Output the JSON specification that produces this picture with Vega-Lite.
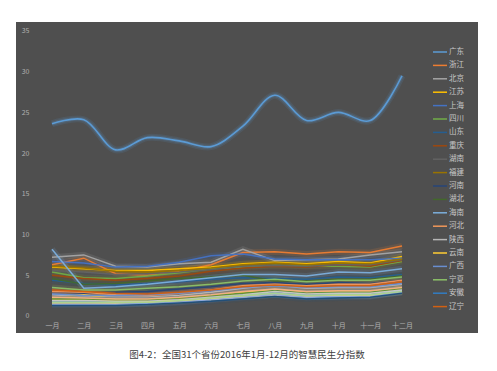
{
  "$schema": "https://vega.github.io/schema/vega-lite/v6.json",
  "width": 462,
  "height": 311,
  "autosize": {"type": "none"},
  "padding": {"left": 16, "top": 22, "right": 19, "bottom": 38},
  "background": "white",
  "config": {
    "view": {"fill": "#4f4f4f", "stroke": null},
    "font": "Noto Sans CJK SC"
  },
  "title": {
    "text": "图4-2：全国31个省份2016年1月-12月的智慧民生分指数",
    "orient": "bottom",
    "anchor": "middle",
    "fontSize": 9.5,
    "fontWeight": "normal",
    "color": "#404040",
    "font": "Noto Sans CJK SC",
    "offset": 17
  },
  "data": {"values": [
{"p":"广东","m":"一月","v":23.6},{"p":"广东","m":"二月","v":24.1},{"p":"广东","m":"三月","v":20.4},{"p":"广东","m":"四月","v":21.9},{"p":"广东","m":"五月","v":21.5},{"p":"广东","m":"六月","v":20.8},{"p":"广东","m":"七月","v":23.3},{"p":"广东","m":"八月","v":27.1},{"p":"广东","m":"九月","v":24.0},{"p":"广东","m":"十月","v":25.0},{"p":"广东","m":"十一月","v":24.0},{"p":"广东","m":"十二月","v":29.5},
{"p":"浙江","m":"一月","v":6.3},{"p":"浙江","m":"二月","v":7.1},{"p":"浙江","m":"三月","v":5.2},{"p":"浙江","m":"四月","v":5.0},{"p":"浙江","m":"五月","v":5.5},{"p":"浙江","m":"六月","v":6.3},{"p":"浙江","m":"七月","v":7.8},{"p":"浙江","m":"八月","v":7.9},{"p":"浙江","m":"九月","v":7.6},{"p":"浙江","m":"十月","v":7.9},{"p":"浙江","m":"十一月","v":7.8},{"p":"浙江","m":"十二月","v":8.6},
{"p":"北京","m":"一月","v":7.2},{"p":"北京","m":"二月","v":7.5},{"p":"北京","m":"三月","v":6.1},{"p":"北京","m":"四月","v":6.0},{"p":"北京","m":"五月","v":6.4},{"p":"北京","m":"六月","v":6.6},{"p":"北京","m":"七月","v":8.2},{"p":"北京","m":"八月","v":6.8},{"p":"北京","m":"九月","v":6.9},{"p":"北京","m":"十月","v":7.0},{"p":"北京","m":"十一月","v":7.5},{"p":"北京","m":"十二月","v":7.9},
{"p":"江苏","m":"一月","v":6.0},{"p":"江苏","m":"二月","v":5.8},{"p":"江苏","m":"三月","v":5.6},{"p":"江苏","m":"四月","v":5.6},{"p":"江苏","m":"五月","v":5.8},{"p":"江苏","m":"六月","v":6.0},{"p":"江苏","m":"七月","v":6.4},{"p":"江苏","m":"八月","v":6.6},{"p":"江苏","m":"九月","v":6.4},{"p":"江苏","m":"十月","v":6.7},{"p":"江苏","m":"十一月","v":6.5},{"p":"江苏","m":"十二月","v":7.3},
{"p":"上海","m":"一月","v":6.7},{"p":"上海","m":"二月","v":6.5},{"p":"上海","m":"三月","v":6.0},{"p":"上海","m":"四月","v":6.1},{"p":"上海","m":"五月","v":6.6},{"p":"上海","m":"六月","v":7.4},{"p":"上海","m":"七月","v":7.6},{"p":"上海","m":"八月","v":7.0},{"p":"上海","m":"九月","v":6.9},{"p":"上海","m":"十月","v":6.9},{"p":"上海","m":"十一月","v":6.9},{"p":"上海","m":"十二月","v":7.1},
{"p":"四川","m":"一月","v":5.4},{"p":"四川","m":"二月","v":4.7},{"p":"四川","m":"三月","v":4.6},{"p":"四川","m":"四月","v":4.9},{"p":"四川","m":"五月","v":5.3},{"p":"四川","m":"六月","v":5.8},{"p":"四川","m":"七月","v":6.0},{"p":"四川","m":"八月","v":6.2},{"p":"四川","m":"九月","v":6.1},{"p":"四川","m":"十月","v":6.1},{"p":"四川","m":"十一月","v":6.0},{"p":"四川","m":"十二月","v":6.7},
{"p":"山东","m":"一月","v":4.4},{"p":"山东","m":"二月","v":4.0},{"p":"山东","m":"三月","v":3.8},{"p":"山东","m":"四月","v":4.0},{"p":"山东","m":"五月","v":4.2},{"p":"山东","m":"六月","v":4.5},{"p":"山东","m":"七月","v":4.7},{"p":"山东","m":"八月","v":4.6},{"p":"山东","m":"九月","v":4.5},{"p":"山东","m":"十月","v":4.8},{"p":"山东","m":"十一月","v":4.7},{"p":"山东","m":"十二月","v":5.1},
{"p":"重庆","m":"一月","v":5.0},{"p":"重庆","m":"二月","v":4.6},{"p":"重庆","m":"三月","v":4.4},{"p":"重庆","m":"四月","v":4.6},{"p":"重庆","m":"五月","v":4.9},{"p":"重庆","m":"六月","v":5.5},{"p":"重庆","m":"七月","v":5.9},{"p":"重庆","m":"八月","v":6.1},{"p":"重庆","m":"九月","v":6.0},{"p":"重庆","m":"十月","v":6.3},{"p":"重庆","m":"十一月","v":6.1},{"p":"重庆","m":"十二月","v":6.8},
{"p":"湖南","m":"一月","v":5.6},{"p":"湖南","m":"二月","v":5.4},{"p":"湖南","m":"三月","v":5.1},{"p":"湖南","m":"四月","v":5.2},{"p":"湖南","m":"五月","v":5.4},{"p":"湖南","m":"六月","v":5.7},{"p":"湖南","m":"七月","v":6.1},{"p":"湖南","m":"八月","v":6.2},{"p":"湖南","m":"九月","v":6.1},{"p":"湖南","m":"十月","v":6.3},{"p":"湖南","m":"十一月","v":6.3},{"p":"湖南","m":"十二月","v":6.9},
{"p":"福建","m":"一月","v":6.1},{"p":"福建","m":"二月","v":5.9},{"p":"福建","m":"三月","v":5.5},{"p":"福建","m":"四月","v":5.4},{"p":"福建","m":"五月","v":5.6},{"p":"福建","m":"六月","v":5.9},{"p":"福建","m":"七月","v":6.3},{"p":"福建","m":"八月","v":6.5},{"p":"福建","m":"九月","v":6.3},{"p":"福建","m":"十月","v":6.5},{"p":"福建","m":"十一月","v":6.4},{"p":"福建","m":"十二月","v":7.0},
{"p":"河南","m":"一月","v":3.0},{"p":"河南","m":"二月","v":2.8},{"p":"河南","m":"三月","v":2.9},{"p":"河南","m":"四月","v":3.0},{"p":"河南","m":"五月","v":3.3},{"p":"河南","m":"六月","v":3.6},{"p":"河南","m":"七月","v":4.0},{"p":"河南","m":"八月","v":4.1},{"p":"河南","m":"九月","v":3.9},{"p":"河南","m":"十月","v":4.1},{"p":"河南","m":"十一月","v":4.0},{"p":"河南","m":"十二月","v":4.4},
{"p":"湖北","m":"一月","v":4.6},{"p":"湖北","m":"二月","v":3.9},{"p":"湖北","m":"三月","v":4.0},{"p":"湖北","m":"四月","v":4.3},{"p":"湖北","m":"五月","v":4.6},{"p":"湖北","m":"六月","v":4.8},{"p":"湖北","m":"七月","v":5.0},{"p":"湖北","m":"八月","v":4.3},{"p":"湖北","m":"九月","v":4.3},{"p":"湖北","m":"十月","v":4.5},{"p":"湖北","m":"十一月","v":4.5},{"p":"湖北","m":"十二月","v":4.9},
{"p":"海南","m":"一月","v":8.2},{"p":"海南","m":"二月","v":3.4},{"p":"海南","m":"三月","v":3.6},{"p":"海南","m":"四月","v":3.9},{"p":"海南","m":"五月","v":4.3},{"p":"海南","m":"六月","v":4.7},{"p":"海南","m":"七月","v":5.1},{"p":"海南","m":"八月","v":5.1},{"p":"海南","m":"九月","v":4.9},{"p":"海南","m":"十月","v":5.4},{"p":"海南","m":"十一月","v":5.3},{"p":"海南","m":"十二月","v":5.8},
{"p":"河北","m":"一月","v":3.0},{"p":"河北","m":"二月","v":2.9},{"p":"河北","m":"三月","v":2.6},{"p":"河北","m":"四月","v":2.5},{"p":"河北","m":"五月","v":2.8},{"p":"河北","m":"六月","v":3.2},{"p":"河北","m":"七月","v":3.7},{"p":"河北","m":"八月","v":3.9},{"p":"河北","m":"九月","v":3.7},{"p":"河北","m":"十月","v":3.9},{"p":"河北","m":"十一月","v":3.9},{"p":"河北","m":"十二月","v":4.4},
{"p":"陕西","m":"一月","v":2.6},{"p":"陕西","m":"二月","v":2.4},{"p":"陕西","m":"三月","v":2.3},{"p":"陕西","m":"四月","v":2.3},{"p":"陕西","m":"五月","v":2.5},{"p":"陕西","m":"六月","v":2.9},{"p":"陕西","m":"七月","v":3.4},{"p":"陕西","m":"八月","v":3.8},{"p":"陕西","m":"九月","v":3.4},{"p":"陕西","m":"十月","v":3.5},{"p":"陕西","m":"十一月","v":3.5},{"p":"陕西","m":"十二月","v":3.9},
{"p":"云南","m":"一月","v":2.2},{"p":"云南","m":"二月","v":2.6},{"p":"云南","m":"三月","v":2.1},{"p":"云南","m":"四月","v":2.0},{"p":"云南","m":"五月","v":2.2},{"p":"云南","m":"六月","v":2.5},{"p":"云南","m":"七月","v":2.9},{"p":"云南","m":"八月","v":3.3},{"p":"云南","m":"九月","v":3.0},{"p":"云南","m":"十月","v":3.1},{"p":"云南","m":"十一月","v":3.1},{"p":"云南","m":"十二月","v":3.6},
{"p":"广西","m":"一月","v":2.7},{"p":"广西","m":"二月","v":2.5},{"p":"广西","m":"三月","v":2.5},{"p":"广西","m":"四月","v":2.6},{"p":"广西","m":"五月","v":2.8},{"p":"广西","m":"六月","v":3.1},{"p":"广西","m":"七月","v":3.5},{"p":"广西","m":"八月","v":3.7},{"p":"广西","m":"九月","v":3.5},{"p":"广西","m":"十月","v":3.6},{"p":"广西","m":"十一月","v":3.6},{"p":"广西","m":"十二月","v":4.0},
{"p":"宁夏","m":"一月","v":3.5},{"p":"宁夏","m":"二月","v":3.2},{"p":"宁夏","m":"三月","v":3.2},{"p":"宁夏","m":"四月","v":3.4},{"p":"宁夏","m":"五月","v":3.6},{"p":"宁夏","m":"六月","v":3.9},{"p":"宁夏","m":"七月","v":4.3},{"p":"宁夏","m":"八月","v":4.5},{"p":"宁夏","m":"九月","v":4.2},{"p":"宁夏","m":"十月","v":4.4},{"p":"宁夏","m":"十一月","v":4.4},{"p":"宁夏","m":"十二月","v":4.8},
{"p":"安徽","m":"一月","v":1.5},{"p":"安徽","m":"二月","v":1.5},{"p":"安徽","m":"三月","v":1.5},{"p":"安徽","m":"四月","v":1.6},{"p":"安徽","m":"五月","v":1.9},{"p":"安徽","m":"六月","v":2.2},{"p":"安徽","m":"七月","v":2.4},{"p":"安徽","m":"八月","v":2.7},{"p":"安徽","m":"九月","v":2.3},{"p":"安徽","m":"十月","v":2.4},{"p":"安徽","m":"十一月","v":2.5},{"p":"安徽","m":"十二月","v":3.0},
{"p":"辽宁","m":"一月","v":3.2},{"p":"辽宁","m":"二月","v":3.0},{"p":"辽宁","m":"三月","v":2.8},{"p":"辽宁","m":"四月","v":2.7},{"p":"辽宁","m":"五月","v":2.9},{"p":"辽宁","m":"六月","v":3.2},{"p":"辽宁","m":"七月","v":3.6},{"p":"辽宁","m":"八月","v":3.8},{"p":"辽宁","m":"九月","v":3.6},{"p":"辽宁","m":"十月","v":3.7},{"p":"辽宁","m":"十一月","v":3.7},{"p":"辽宁","m":"十二月","v":4.2},
{"p":"天津","m":"一月","v":2.4},{"p":"天津","m":"二月","v":2.3},{"p":"天津","m":"三月","v":2.2},{"p":"天津","m":"四月","v":2.2},{"p":"天津","m":"五月","v":2.4},{"p":"天津","m":"六月","v":2.7},{"p":"天津","m":"七月","v":3.1},{"p":"天津","m":"八月","v":3.4},{"p":"天津","m":"九月","v":3.1},{"p":"天津","m":"十月","v":3.2},{"p":"天津","m":"十一月","v":3.2},{"p":"天津","m":"十二月","v":3.6},
{"p":"吉林","m":"一月","v":2.0},{"p":"吉林","m":"二月","v":2.0},{"p":"吉林","m":"三月","v":1.9},{"p":"吉林","m":"四月","v":1.9},{"p":"吉林","m":"五月","v":2.1},{"p":"吉林","m":"六月","v":2.4},{"p":"吉林","m":"七月","v":2.7},{"p":"吉林","m":"八月","v":3.0},{"p":"吉林","m":"九月","v":2.7},{"p":"吉林","m":"十月","v":2.8},{"p":"吉林","m":"十一月","v":2.8},{"p":"吉林","m":"十二月","v":3.3},
{"p":"黑龙江","m":"一月","v":1.8},{"p":"黑龙江","m":"二月","v":1.8},{"p":"黑龙江","m":"三月","v":1.7},{"p":"黑龙江","m":"四月","v":1.8},{"p":"黑龙江","m":"五月","v":2.0},{"p":"黑龙江","m":"六月","v":2.3},{"p":"黑龙江","m":"七月","v":2.6},{"p":"黑龙江","m":"八月","v":2.9},{"p":"黑龙江","m":"九月","v":2.6},{"p":"黑龙江","m":"十月","v":2.7},{"p":"黑龙江","m":"十一月","v":2.7},{"p":"黑龙江","m":"十二月","v":3.2},
{"p":"山西","m":"一月","v":2.1},{"p":"山西","m":"二月","v":2.1},{"p":"山西","m":"三月","v":2.0},{"p":"山西","m":"四月","v":2.0},{"p":"山西","m":"五月","v":2.2},{"p":"山西","m":"六月","v":2.5},{"p":"山西","m":"七月","v":2.8},{"p":"山西","m":"八月","v":3.1},{"p":"山西","m":"九月","v":2.8},{"p":"山西","m":"十月","v":2.9},{"p":"山西","m":"十一月","v":2.9},{"p":"山西","m":"十二月","v":3.4},
{"p":"内蒙古","m":"一月","v":1.7},{"p":"内蒙古","m":"二月","v":1.7},{"p":"内蒙古","m":"三月","v":1.6},{"p":"内蒙古","m":"四月","v":1.7},{"p":"内蒙古","m":"五月","v":1.9},{"p":"内蒙古","m":"六月","v":2.1},{"p":"内蒙古","m":"七月","v":2.5},{"p":"内蒙古","m":"八月","v":2.8},{"p":"内蒙古","m":"九月","v":2.5},{"p":"内蒙古","m":"十月","v":2.6},{"p":"内蒙古","m":"十一月","v":2.6},{"p":"内蒙古","m":"十二月","v":3.1},
{"p":"江西","m":"一月","v":2.3},{"p":"江西","m":"二月","v":2.2},{"p":"江西","m":"三月","v":2.1},{"p":"江西","m":"四月","v":2.1},{"p":"江西","m":"五月","v":2.3},{"p":"江西","m":"六月","v":2.6},{"p":"江西","m":"七月","v":3.0},{"p":"江西","m":"八月","v":3.3},{"p":"江西","m":"九月","v":3.0},{"p":"江西","m":"十月","v":3.1},{"p":"江西","m":"十一月","v":3.1},{"p":"江西","m":"十二月","v":3.5},
{"p":"贵州","m":"一月","v":1.9},{"p":"贵州","m":"二月","v":1.9},{"p":"贵州","m":"三月","v":1.8},{"p":"贵州","m":"四月","v":1.8},{"p":"贵州","m":"五月","v":2.0},{"p":"贵州","m":"六月","v":2.3},{"p":"贵州","m":"七月","v":2.6},{"p":"贵州","m":"八月","v":3.0},{"p":"贵州","m":"九月","v":2.7},{"p":"贵州","m":"十月","v":2.8},{"p":"贵州","m":"十一月","v":2.8},{"p":"贵州","m":"十二月","v":3.2},
{"p":"甘肃","m":"一月","v":1.6},{"p":"甘肃","m":"二月","v":1.6},{"p":"甘肃","m":"三月","v":1.6},{"p":"甘肃","m":"四月","v":1.7},{"p":"甘肃","m":"五月","v":1.9},{"p":"甘肃","m":"六月","v":2.1},{"p":"甘肃","m":"七月","v":2.4},{"p":"甘肃","m":"八月","v":2.6},{"p":"甘肃","m":"九月","v":2.4},{"p":"甘肃","m":"十月","v":2.5},{"p":"甘肃","m":"十一月","v":2.5},{"p":"甘肃","m":"十二月","v":2.9},
{"p":"青海","m":"一月","v":1.4},{"p":"青海","m":"二月","v":1.4},{"p":"青海","m":"三月","v":1.4},{"p":"青海","m":"四月","v":1.5},{"p":"青海","m":"五月","v":1.7},{"p":"青海","m":"六月","v":2.0},{"p":"青海","m":"七月","v":2.3},{"p":"青海","m":"八月","v":2.6},{"p":"青海","m":"九月","v":2.3},{"p":"青海","m":"十月","v":2.4},{"p":"青海","m":"十一月","v":2.4},{"p":"青海","m":"十二月","v":2.9},
{"p":"新疆","m":"一月","v":1.7},{"p":"新疆","m":"二月","v":1.7},{"p":"新疆","m":"三月","v":1.7},{"p":"新疆","m":"四月","v":1.7},{"p":"新疆","m":"五月","v":1.9},{"p":"新疆","m":"六月","v":2.2},{"p":"新疆","m":"七月","v":2.5},{"p":"新疆","m":"八月","v":2.8},{"p":"新疆","m":"九月","v":2.5},{"p":"新疆","m":"十月","v":2.6},{"p":"新疆","m":"十一月","v":2.6},{"p":"新疆","m":"十二月","v":3.0},
{"p":"西藏","m":"一月","v":1.3},{"p":"西藏","m":"二月","v":1.3},{"p":"西藏","m":"三月","v":1.3},{"p":"西藏","m":"四月","v":1.4},{"p":"西藏","m":"五月","v":1.6},{"p":"西藏","m":"六月","v":1.8},{"p":"西藏","m":"七月","v":2.1},{"p":"西藏","m":"八月","v":2.4},{"p":"西藏","m":"九月","v":2.1},{"p":"西藏","m":"十月","v":2.2},{"p":"西藏","m":"十一月","v":2.3},{"p":"西藏","m":"十二月","v":2.8}
  ]},
  "encoding": {
    "x": {
      "field": "m", "type": "ordinal",
      "sort": ["一月","二月","三月","四月","五月","六月","七月","八月","九月","十月","十一月","十二月"],
      "scale": {"type": "point", "range": [36, 386], "padding": 0},
      "axis": {"title": null, "orient": "bottom", "offset": -14, "domain": false, "ticks": false, "grid": false, "labelPadding": 2, "labelFontSize": 7, "labelColor": "#b0b0b0", "labelFont": "Noto Sans CJK SC", "labelAngle": 0}
    },
    "y": {
      "field": "v", "type": "quantitative",
      "scale": {"domain": [-2.09, 36.1], "nice": false, "zero": false},
      "axis": {"title": null, "offset": -14, "values": [0,5,10,15,20,25,30,35], "domain": false, "ticks": false, "grid": false, "labelPadding": 1, "labelFontSize": 7, "labelColor": "#b0b0b0", "labelFont": "Noto Sans CJK SC"}
    },
    "color": {
      "field": "p", "type": "nominal",
      "scale": {
        "domain": ["广东","浙江","北京","江苏","上海","四川","山东","重庆","湖南","福建","河南","湖北","海南","河北","陕西","云南","广西","宁夏","安徽","辽宁","天津","吉林","黑龙江","山西","内蒙古","江西","贵州","甘肃","青海","新疆","西藏"],
        "range": ["#5B9BD5","#ED7D31","#A5A5A5","#FFC000","#4472C4","#70AD47","#255E91","#9E480E","#636363","#997300","#264478","#43682B","#7CAFDD","#F1975A","#B7B7B7","#FFCD33","#698ED0","#8CC168","#327DC2","#D26012","#848484","#CC9A00","#3964B4","#5B9035","#9DC3E6","#F4B183","#C9C9C9","#FFD966","#8FAADC","#A9D18E","#1F4E79"]
      },
      "legend": {
        "title": null,
        "orient": "none",
        "legendX": 416,
        "legendY": 22,
        "values": ["广东","浙江","北京","江苏","上海","四川","山东","重庆","湖南","福建","河南","湖北","海南","河北","陕西","云南","广西","宁夏","安徽","辽宁"],
        "symbolType": "stroke",
        "symbolSize": 196,
        "symbolStrokeWidth": 1.5,
        "symbolOpacity": 1,
        "labelFontSize": 7.5,
        "labelColor": "#c8c8c8",
        "labelFont": "Noto Sans CJK SC",
        "labelOffset": 1,
        "rowPadding": 1.4
      }
    }
  },
  "layer": [
    {
      "transform": [{"filter": "datum.p !== '广东'"}],
      "mark": {"type": "line", "strokeWidth": 6, "opacity": 0.15, "interpolate": "linear"}
    },
    {
      "transform": [{"filter": "datum.p !== '广东'"}],
      "mark": {"type": "line", "strokeWidth": 1.5, "opacity": 0.95, "interpolate": "linear"}
    },
    {
      "transform": [{"filter": "datum.p === '广东'"}],
      "mark": {"type": "line", "strokeWidth": 7, "opacity": 0.12, "interpolate": "catmull-rom"}
    },
    {
      "transform": [{"filter": "datum.p === '广东'"}],
      "mark": {"type": "line", "strokeWidth": 4, "opacity": 0.2, "interpolate": "catmull-rom"}
    },
    {
      "transform": [{"filter": "datum.p === '广东'"}],
      "mark": {"type": "line", "strokeWidth": 1.6, "interpolate": "catmull-rom"}
    }
  ]
}
